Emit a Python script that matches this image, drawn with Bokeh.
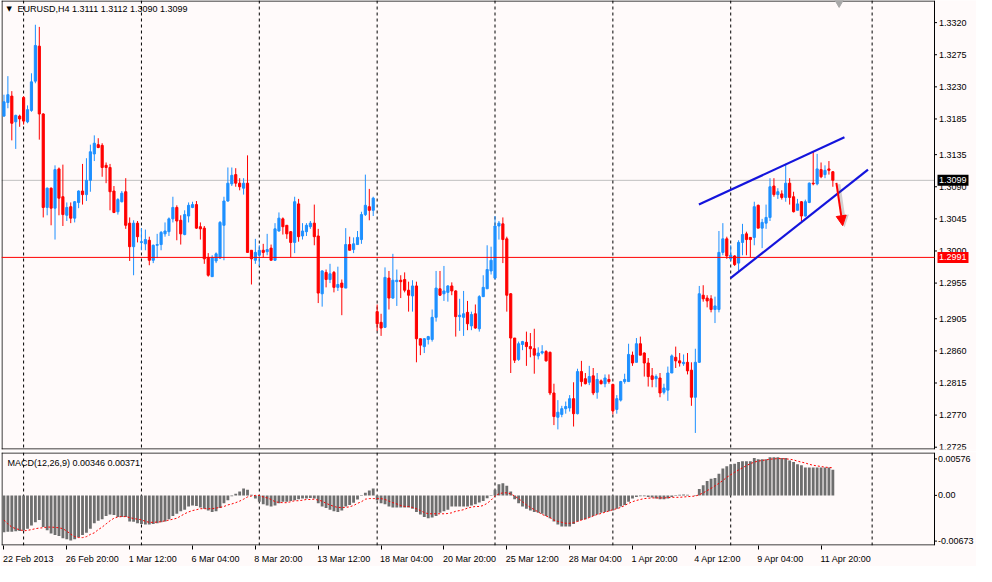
from bokeh.plotting import figure
from bokeh.layouts import column
from bokeh.models import (ColumnDataSource, Span, Label, FixedTicker,
                          Arrow, NormalHead, Range1d)
from bokeh.core.properties import value
from bokeh.embed import file_html
from bokeh.resources import INLINE

# ---------------- data (EURUSD, H4) ----------------
opens = [1.3189, 1.3208, 1.3217, 1.3181, 1.3189, 1.3215, 1.3181, 1.3197, 1.3238, 1.3287,
         1.3192, 1.3061, 1.3088, 1.3060, 1.3115, 1.3076, 1.3050, 1.3062, 1.3046, 1.3068,
         1.3084, 1.3079, 1.3099, 1.3136, 1.3149, 1.3148, 1.3120, 1.3117, 1.3084, 1.3055,
         1.3069, 1.3083, 1.3039, 1.3006, 1.3039, 1.3012, 1.3010, 1.3015, 1.2987, 1.3008,
         1.3009, 1.3024, 1.3027, 1.3045, 1.3061, 1.3043, 1.3023, 1.3049, 1.3061, 1.3065,
         1.3034, 1.3032, 1.2991, 1.2964, 1.2986, 1.2990, 1.3036, 1.3070, 1.3094, 1.3107,
         1.3095, 1.3088, 1.3095, 1.3001, 1.2987, 1.2994, 1.3001, 1.2999, 1.3004, 1.2987,
         1.3028, 1.3045, 1.3036, 1.3027, 1.3012, 1.3066, 1.3021, 1.3027, 1.3034, 1.3039,
         1.3021, 1.2940, 1.2970, 1.2960, 1.2970, 1.2949, 1.2955, 1.2948, 1.3009, 1.3002,
         1.3009, 1.3016, 1.3051, 1.3062, 1.3057, 1.2915, 1.2900, 1.2893, 1.2962, 1.2934,
         1.2957, 1.2959, 1.2960, 1.2945, 1.2937, 1.2951, 1.2877, 1.2866, 1.2876, 1.2876,
         1.2907, 1.2947, 1.2940, 1.2942, 1.2951, 1.2944, 1.2908, 1.2907, 1.2914, 1.2895,
         1.2912, 1.2891, 1.2936, 1.2947, 1.2972, 1.2962, 1.3035, 1.3038, 1.3017, 1.2940,
         1.2878, 1.2848, 1.2869, 1.2872, 1.2866, 1.2863, 1.2853, 1.2857, 1.2859, 1.2858,
         1.2801, 1.2767, 1.2771, 1.2779, 1.2780, 1.2793, 1.2772, 1.2831, 1.2821, 1.2816,
         1.2825, 1.2802, 1.2818, 1.2814, 1.2820, 1.2813, 1.2778, 1.2791, 1.2817, 1.2817,
         1.2854, 1.2844, 1.2870, 1.2857, 1.2843, 1.2825, 1.2821, 1.2822, 1.2802, 1.2805,
         1.2829, 1.2851, 1.2846, 1.2842, 1.2844, 1.2833, 1.2795, 1.2844, 1.2938, 1.2934,
         1.2933, 1.2918, 1.2918, 1.2998, 1.3017, 1.2989, 1.2993, 1.2983, 1.3012, 1.3024,
         1.3019, 1.3019, 1.3064, 1.3032, 1.3039, 1.3047, 1.3091, 1.3079, 1.3080, 1.3075,
         1.3095, 1.3076, 1.3057, 1.3069, 1.3049, 1.3068, 1.3095, 1.3094, 1.3114, 1.3107,
         1.3115, 1.3111]

highs = [1.3219, 1.3245, 1.3224, 1.3191, 1.3191, 1.3217, 1.3204, 1.3249, 1.3317, 1.3314,
         1.3193, 1.3089, 1.3089, 1.3120, 1.3117, 1.3121, 1.3068, 1.3068, 1.3070, 1.3085,
         1.3122, 1.3130, 1.3149, 1.3162, 1.3158, 1.3151, 1.3124, 1.3122, 1.3091, 1.3074,
         1.3084, 1.3102, 1.3047, 1.3043, 1.3042, 1.3032, 1.3030, 1.3020, 1.3009, 1.3024,
         1.3028, 1.3040, 1.3047, 1.3076, 1.3064, 1.3050, 1.3057, 1.3068, 1.3069, 1.3070,
         1.3040, 1.3035, 1.2997, 1.2994, 1.2998, 1.3042, 1.3076, 1.3117, 1.3117, 1.3116,
         1.3102, 1.3102, 1.3134, 1.3001, 1.3017, 1.3008, 1.3010, 1.3024, 1.3009, 1.3039,
         1.3054, 1.3047, 1.3036, 1.3028, 1.3076, 1.3073, 1.3039, 1.3039, 1.3042, 1.3065,
         1.3031, 1.2973, 1.2974, 1.2982, 1.2972, 1.2978, 1.2960, 1.3032, 1.3020, 1.3019,
         1.3028, 1.3055, 1.3107, 1.3087, 1.3076, 1.2925, 1.2912, 1.2977, 1.2972, 1.2996,
         1.2974, 1.2966, 1.2970, 1.2957, 1.2959, 1.2957, 1.2877, 1.2878, 1.2881, 1.2918,
         1.2972, 1.2972, 1.2979, 1.2952, 1.2956, 1.2945, 1.2933, 1.2944, 1.2930, 1.2915,
         1.2925, 1.2938, 1.2966, 1.3008, 1.3006, 1.3049, 1.3042, 1.3047, 1.3020, 1.2941,
         1.2878, 1.2873, 1.2874, 1.2887, 1.2885, 1.2891, 1.2865, 1.2868, 1.2861, 1.2859,
         1.2814, 1.2791, 1.2783, 1.2789, 1.2798, 1.2816, 1.2835, 1.2846, 1.2829, 1.2839,
         1.2836, 1.2829, 1.2820, 1.2827, 1.2827, 1.2814, 1.2798, 1.2818, 1.2828, 1.2870,
         1.2859, 1.2878, 1.2880, 1.2858, 1.2850, 1.2836, 1.2827, 1.2829, 1.2814, 1.2838,
         1.2855, 1.2866, 1.2857, 1.2855, 1.2857, 1.2844, 1.2863, 1.2951, 1.2952, 1.2938,
         1.2938, 1.2936, 1.3028, 1.3039, 1.3020, 1.3008, 1.2994, 1.3015, 1.3038, 1.3027,
         1.3019, 1.3069, 1.3065, 1.3045, 1.3065, 1.3102, 1.3102, 1.3088, 1.3085, 1.3122,
         1.3102, 1.3083, 1.3073, 1.3070, 1.3072, 1.3096, 1.3140, 1.3136, 1.3124, 1.3120,
         1.3126, 1.3112]

lows = [1.3188, 1.3200, 1.3155, 1.3143, 1.3174, 1.3177, 1.3179, 1.3195, 1.3235, 1.3156,
        1.3047, 1.3050, 1.3036, 1.3016, 1.3050, 1.3035, 1.3042, 1.3039, 1.3040, 1.3060,
        1.3065, 1.3070, 1.3083, 1.3126, 1.3144, 1.3104, 1.3095, 1.3057, 1.3053, 1.3051,
        1.3068, 1.3031, 1.2986, 1.2966, 1.3012, 1.3001, 1.3001, 1.2980, 1.2983, 1.2990,
        1.3001, 1.3020, 1.3021, 1.3040, 1.3015, 1.3009, 1.3022, 1.3040, 1.3060, 1.3031,
        1.3016, 1.2982, 1.2964, 1.2964, 1.2983, 1.2989, 1.2987, 1.3069, 1.3091, 1.3090,
        1.3085, 1.3079, 1.2998, 1.2953, 1.2982, 1.2979, 1.2991, 1.2994, 1.2987, 1.2986,
        1.3027, 1.3023, 1.3017, 1.2991, 1.2997, 1.3013, 1.3016, 1.3021, 1.3031, 1.3008,
        1.2927, 1.2922, 1.2949, 1.2955, 1.2942, 1.2944, 1.2910, 1.2948, 1.3001, 1.2997,
        1.3009, 1.3010, 1.3049, 1.3043, 1.3049, 1.2888, 1.2881, 1.2892, 1.2918, 1.2933,
        1.2923, 1.2934, 1.2942, 1.2915, 1.2915, 1.2844, 1.2854, 1.2857, 1.2869, 1.2873,
        1.2901, 1.2937, 1.2930, 1.2929, 1.2938, 1.2880, 1.2888, 1.2881, 1.2889, 1.2889,
        1.2891, 1.2887, 1.2936, 1.2947, 1.2967, 1.2960, 1.3016, 1.2983, 1.2915, 1.2829,
        1.2843, 1.2846, 1.2861, 1.2839, 1.2851, 1.2828, 1.2848, 1.2855, 1.2845, 1.2798,
        1.2756, 1.2750, 1.2767, 1.2772, 1.2775, 1.2754, 1.2771, 1.2810, 1.2813, 1.2812,
        1.2798, 1.2793, 1.2813, 1.2809, 1.2814, 1.2771, 1.2772, 1.2789, 1.2814, 1.2817,
        1.2839, 1.2844, 1.2854, 1.2824, 1.2810, 1.2809, 1.2809, 1.2795, 1.2799, 1.2790,
        1.2829, 1.2836, 1.2838, 1.2839, 1.2827, 1.2783, 1.2745, 1.2843, 1.2929, 1.2921,
        1.2914, 1.2899, 1.2914, 1.2994, 1.2989, 1.2986, 1.2979, 1.2972, 1.2994, 1.2994,
        1.2991, 1.3008, 1.3032, 1.3004, 1.3031, 1.3042, 1.3076, 1.3073, 1.3072, 1.3069,
        1.3065, 1.3054, 1.3057, 1.3042, 1.3048, 1.3067, 1.3092, 1.3092, 1.3102, 1.3102,
        1.3107, 1.3090]

closes = [1.3209, 1.3219, 1.3179, 1.3190, 1.3185, 1.3182, 1.3198, 1.3237, 1.3288, 1.3192,
          1.3061, 1.3088, 1.3060, 1.3114, 1.3074, 1.3051, 1.3061, 1.3046, 1.3069, 1.3084,
          1.3079, 1.3099, 1.3139, 1.3151, 1.3145, 1.3117, 1.3117, 1.3083, 1.3054, 1.3072,
          1.3081, 1.3036, 1.3006, 1.3039, 1.3020, 1.3013, 1.3016, 1.2987, 1.3008, 1.3009,
          1.3026, 1.3028, 1.3045, 1.3061, 1.3042, 1.3024, 1.3051, 1.3064, 1.3065, 1.3032,
          1.3031, 1.2989, 1.2966, 1.2991, 1.2996, 1.3040, 1.3070, 1.3095, 1.3106, 1.3095,
          1.3090, 1.3095, 1.2998, 1.2989, 1.2998, 1.3001, 1.2998, 1.3002, 1.2987, 1.3031,
          1.3046, 1.3034, 1.3024, 1.3012, 1.3069, 1.3020, 1.3028, 1.3036, 1.3039, 1.3020,
          1.2941, 1.2972, 1.2960, 1.2968, 1.2949, 1.2953, 1.2949, 1.3009, 1.3001, 1.3010,
          1.3019, 1.3051, 1.3064, 1.3057, 1.3074, 1.2898, 1.2892, 1.2963, 1.2934, 1.2959,
          1.2959, 1.2957, 1.2945, 1.2938, 1.2951, 1.2877, 1.2868, 1.2877, 1.2880, 1.2907,
          1.2948, 1.2938, 1.2944, 1.2951, 1.2944, 1.2908, 1.2910, 1.2912, 1.2898, 1.2911,
          1.2892, 1.2936, 1.2949, 1.2974, 1.2987, 1.3035, 1.3039, 1.3016, 1.2938, 1.2878,
          1.2847, 1.2870, 1.2873, 1.2866, 1.2863, 1.2854, 1.2857, 1.2859, 1.2846, 1.2801,
          1.2768, 1.2774, 1.2779, 1.2782, 1.2793, 1.2772, 1.2831, 1.2817, 1.2814, 1.2824,
          1.2801, 1.2820, 1.2814, 1.2822, 1.2817, 1.2776, 1.2793, 1.2817, 1.2820, 1.2855,
          1.2843, 1.2870, 1.2854, 1.2843, 1.2824, 1.2820, 1.2824, 1.2801, 1.2808, 1.2829,
          1.2853, 1.2846, 1.2843, 1.2844, 1.2832, 1.2795, 1.2844, 1.2940, 1.2933, 1.2930,
          1.2918, 1.2923, 1.2998, 1.3017, 1.2993, 1.2994, 1.2981, 1.3012, 1.3023, 1.3016,
          1.3016, 1.3062, 1.3032, 1.3040, 1.3047, 1.3090, 1.3079, 1.3083, 1.3075, 1.3095,
          1.3075, 1.3055, 1.3066, 1.3049, 1.3069, 1.3095, 1.3094, 1.3115, 1.3104, 1.3113,
          1.3113, 1.3099]

macd_main = [-0.00494, -0.00490, -0.00490, -0.00481, -0.00477, -0.00469, -0.00447, -0.00405, -0.00362, -0.00332,
             -0.00426, -0.00469, -0.00511, -0.00533, -0.00545, -0.00575, -0.00588, -0.00605, -0.00588, -0.00562,
             -0.00533, -0.00503, -0.00447, -0.00375, -0.00341, -0.00320, -0.00277, -0.00256, -0.00264, -0.00290,
             -0.00290, -0.00290, -0.00349, -0.00354, -0.00375, -0.00383, -0.00392, -0.00392, -0.00383, -0.00375,
             -0.00362, -0.00349, -0.00320, -0.00277, -0.00247, -0.00213, -0.00192, -0.00149, -0.00136, -0.00141,
             -0.00162, -0.00179, -0.00204, -0.00222, -0.00213, -0.00170, -0.00107, -0.00064, -0.00013, 0.00021,
             0.00051, 0.00094, 0.00077, 0.00009, -0.00043, -0.00085, -0.00119, -0.00136, -0.00149, -0.00136,
             -0.00107, -0.00085, -0.00085, -0.00077, -0.00064, -0.00051, -0.00043, -0.00043, -0.00034, -0.00043,
             -0.00107, -0.00149, -0.00170, -0.00192, -0.00213, -0.00222, -0.00204, -0.00149, -0.00128, -0.00098,
             -0.00055, -0.00009, 0.00034, 0.00064, 0.00094, -0.00064, -0.00107, -0.00119, -0.00149, -0.00162,
             -0.00162, -0.00162, -0.00162, -0.00162, -0.00179, -0.00222, -0.00256, -0.00290, -0.00307, -0.00298,
             -0.00277, -0.00234, -0.00213, -0.00192, -0.00149, -0.00149, -0.00149, -0.00149, -0.00149, -0.00136,
             -0.00119, -0.00094, -0.00077, -0.00038, -0.00009, 0.00077, 0.00149, 0.00162, 0.00128, 0.00051,
             -0.00051, -0.00107, -0.00149, -0.00179, -0.00204, -0.00222, -0.00234, -0.00247, -0.00277, -0.00307,
             -0.00349, -0.00392, -0.00417, -0.00417, -0.00417, -0.00383, -0.00349, -0.00332, -0.00320, -0.00298,
             -0.00277, -0.00256, -0.00234, -0.00222, -0.00213, -0.00204, -0.00179, -0.00149, -0.00128, -0.00085,
             -0.00043, -0.00021, -0.00013, -0.00013, -0.00021, -0.00030, -0.00043, -0.00051, -0.00051, -0.00043,
             -0.00021, -0.00009, 0.00009, 0.00013, 0.00009, -0.00002, -0.00009, 0.00085, 0.00136, 0.00192,
             0.00222, 0.00234, 0.00290, 0.00362, 0.00392, 0.00417, 0.00426, 0.00447, 0.00460, 0.00460,
             0.00460, 0.00503, 0.00486, 0.00486, 0.00486, 0.00511, 0.00511, 0.00511, 0.00503, 0.00503,
             0.00469, 0.00447, 0.00417, 0.00405, 0.00375, 0.00375, 0.00375, 0.00375, 0.00375, 0.00375,
             0.00375, 0.00346]

macd_signal = [-0.00332, -0.00383, -0.00426, -0.00447, -0.00460, -0.00477, -0.00469, -0.00460, -0.00447, -0.00439,
               -0.00435, -0.00426, -0.00426, -0.00430, -0.00435, -0.00447, -0.00481, -0.00520, -0.00554, -0.00567,
               -0.00567, -0.00554, -0.00524, -0.00503, -0.00460, -0.00426, -0.00383, -0.00341, -0.00307, -0.00290,
               -0.00285, -0.00285, -0.00298, -0.00311, -0.00320, -0.00328, -0.00349, -0.00362, -0.00362, -0.00358,
               -0.00354, -0.00341, -0.00332, -0.00320, -0.00307, -0.00277, -0.00247, -0.00222, -0.00204, -0.00192,
               -0.00179, -0.00179, -0.00179, -0.00179, -0.00170, -0.00162, -0.00149, -0.00128, -0.00115, -0.00098,
               -0.00077, -0.00051, -0.00021, -0.00009, 0.00000, 0.00000, -0.00021, -0.00034, -0.00055, -0.00085,
               -0.00094, -0.00098, -0.00098, -0.00085, -0.00072, -0.00072, -0.00064, -0.00055, -0.00055, -0.00051,
               -0.00064, -0.00077, -0.00107, -0.00128, -0.00149, -0.00162, -0.00162, -0.00162, -0.00153, -0.00136,
               -0.00107, -0.00085, -0.00051, -0.00043, -0.00043, -0.00043, -0.00043, -0.00055, -0.00077, -0.00098,
               -0.00115, -0.00136, -0.00149, -0.00149, -0.00162, -0.00179, -0.00204, -0.00230, -0.00247, -0.00247,
               -0.00247, -0.00247, -0.00247, -0.00243, -0.00234, -0.00213, -0.00204, -0.00192, -0.00170, -0.00158,
               -0.00149, -0.00149, -0.00136, -0.00107, -0.00064, -0.00009, 0.00021, 0.00034, 0.00034, 0.00021,
               -0.00009, -0.00043, -0.00085, -0.00128, -0.00162, -0.00192, -0.00222, -0.00256, -0.00277, -0.00298,
               -0.00332, -0.00349, -0.00362, -0.00375, -0.00375, -0.00366, -0.00349, -0.00332, -0.00315, -0.00298,
               -0.00277, -0.00256, -0.00243, -0.00226, -0.00209, -0.00192, -0.00179, -0.00162, -0.00136, -0.00107,
               -0.00085, -0.00068, -0.00055, -0.00043, -0.00038, -0.00034, -0.00034, -0.00034, -0.00034, -0.00030,
               -0.00026, -0.00026, -0.00026, -0.00021, -0.00017, -0.00013, -0.00009, 0.00009, 0.00034, 0.00064,
               0.00094, 0.00128, 0.00162, 0.00200, 0.00243, 0.00277, 0.00311, 0.00341, 0.00371, 0.00400,
               0.00426, 0.00447, 0.00460, 0.00469, 0.00477, 0.00486, 0.00490, 0.00494, 0.00494, 0.00490,
               0.00486, 0.00477, 0.00460, 0.00447, 0.00435, 0.00417, 0.00405, 0.00396, 0.00388, 0.00379,
               0.00375, 0.00371]

time_tick_bars = [0, 16, 32, 48, 64, 80, 96, 112, 128, 144, 160, 176, 192, 208]
time_tick_labels = ["22 Feb 2013", "26 Feb 20:00", "1 Mar 12:00", "6 Mar 04:00", "8 Mar 20:00",
                    "13 Mar 12:00", "18 Mar 04:00", "20 Mar 20:00", "25 Mar 12:00", "28 Mar 04:00",
                    "1 Apr 20:00", "4 Apr 12:00", "9 Apr 04:00", "11 Apr 20:00"]
price_ticks = [1.3320, 1.3275, 1.3230, 1.3185, 1.3135, 1.3090, 1.3045, 1.3000,
               1.2955, 1.2905, 1.2860, 1.2815, 1.2770, 1.2725]
week_start_bars = [5, 35, 65, 95, 125, 155, 185, 221]

bid_price = 1.3099
hline_price = 1.2991
macd_max_label = 0.00576
macd_min_label = -0.00673

# drawn objects: (bar index, price)
channel_upper = ([176.9, 213.95], [1.30650, 1.31594])
channel_lower = ([184.95, 219.95], [1.29619, 1.31140])
arrow_from = (211.9, 1.30954)
arrow_to = (213.5, 1.30354)
shift_marker_bar = 212.6

# ---------------- geometry / style ----------------
BULL = "#1E90FF"
BEAR = "#FF0000"
BG = "#FFFAFA"
FONT = "Liberation Sans"
FS = "9px"

W = 976
LEFT_BORDER = 1
STRIP_PX = 42                      # price-scale strip right of the chart frame
FRAME_PX = W - LEFT_BORDER         # full bokeh frame (chart + strip)
CHART_PX = FRAME_PX - STRIP_PX

X_START, X_END = -0.625, 236.875   # chart area in bar units
PPB = CHART_PX / (X_END - X_START)  # pixels per bar
X_FULL_END = X_START + FRAME_PX / PPB

Y_MIN, Y_MAX = 1.27218, 1.3351
P1_H, P1_TOP, P1_BOT = 451, 0, 2
P1_FRAME = P1_H - P1_TOP - P1_BOT
P2_H, P2_TOP, P2_BOT = 115, 1, 19
P2_FRAME = P2_H - P2_TOP - P2_BOT


def px(n):
    return n / PPB


n = len(closes)
idx = list(range(n))
colors = [BULL if c >= o else BEAR for o, c in zip(opens, closes)]
src = ColumnDataSource(dict(
    x=idx, o=opens, h=highs, l=lows, c=closes,
    top=[max(o, c) for o, c in zip(opens, closes)],
    bottom=[min(o, c) for o, c in zip(opens, closes)],
    color=colors))

xr = Range1d(X_START, X_FULL_END)


def base_fig(height, yr, top_b, bottom_b, x_loc, frame_h):
    p = figure(width=W, height=height, x_range=xr, y_range=yr,
               output_backend="svg", toolbar_location=None, tools="",
               x_axis_location=x_loc, y_axis_location=None,
               min_border_left=LEFT_BORDER, min_border_right=0, min_border_top=top_b,
               min_border_bottom=bottom_b)
    p.background_fill_color = BG
    p.border_fill_color = BG
    p.outline_line_color = None
    p.xgrid.visible = False
    p.ygrid.visible = False
    for b in week_start_bars:
        p.add_layout(Span(location=b, dimension="height", line_color="black",
                          line_dash="3 3", line_width=1, level="underlay"))
    # frame of the chart area (without the price strip)
    ylo, yhi = yr.start, yr.end
    uy = (yhi - ylo) / frame_h
    p.segment(x0=[X_START, X_START], y0=[yhi - 0.5 * uy, ylo + 0.5 * uy],
              x1=[X_END, X_END], y1=[yhi - 0.5 * uy, ylo + 0.5 * uy],
              line_color="black", line_width=1)
    p.segment(x0=[X_START + px(0.5), X_END], y0=[ylo, ylo], x1=[X_START + px(0.5), X_END],
              y1=[yhi, yhi], line_color="black", line_width=1)
    return p, uy


def scale_labels(p, ys, texts, tick_len=2.5, gap=4.5):
    p.segment(x0=[X_END] * len(ys), y0=ys, x1=[X_END + px(tick_len)] * len(ys), y1=ys,
              line_color="black", line_width=1)
    p.text(x=[X_END + px(gap)] * len(ys), y=ys, text=texts, text_font=value(FONT),
           text_font_size=value(FS), text_color="black", text_baseline="middle",
           text_align="left")


# ---------------- main price panel ----------------
p1, uy1 = base_fig(P1_H, Range1d(Y_MIN, Y_MAX), P1_TOP, P1_BOT, None, P1_FRAME)

p1.segment(x0=[X_START], y0=[bid_price], x1=[X_END], y1=[bid_price],
           line_color="#C0C0C0", line_width=1, level="underlay")

p1.segment(x0="x", y0="l", x1="x", y1="h", line_color="color", line_width=1, source=src)
p1.vbar(x="x", top="top", bottom="bottom", width=0.55, fill_color="color",
        line_color="color", line_width=1, source=src)

p1.segment(x0=[X_START], y0=[hline_price], x1=[X_END], y1=[hline_price],
           line_color="#FF0000", line_width=1)

p1.line(channel_upper[0], channel_upper[1], line_color="#1414DC", line_width=2.2)
p1.line(channel_lower[0], channel_lower[1], line_color="#1414DC", line_width=2.2)

p1.add_layout(Arrow(x_start=arrow_from[0] + 0.5, y_start=arrow_from[1] - 0.0002,
                    x_end=arrow_to[0] + 0.5, y_end=arrow_to[1] - 0.0002,
                    line_color="#555555", line_alpha=0.25, line_width=4,
                    end=NormalHead(size=12, fill_color="#555555", fill_alpha=0.25,
                                   line_color=None)))
p1.add_layout(Arrow(x_start=arrow_from[0], y_start=arrow_from[1],
                    x_end=arrow_to[0], y_end=arrow_to[1],
                    line_color="#FF0000", line_width=2,
                    end=NormalHead(size=10, fill_color="#FF0000", line_color="#FF0000",
                                   line_width=1)))

p1.scatter([shift_marker_bar], [Y_MAX], marker="inverted_triangle", size=12,
           fill_color="#A8A8A8", line_color="#A8A8A8")

p1.add_layout(Label(x=5, y=Y_MAX, x_units="screen", y_offset=-4, text="\u25BC",
                    text_font="DejaVu Sans", text_font_size="7px", text_baseline="top",
                    text_color="black"))
p1.add_layout(Label(x=16, y=Y_MAX, x_units="screen", y_offset=-3,
                    text="EURUSD,H4  1.3111 1.3112 1.3090 1.3099",
                    text_font=FONT, text_font_size=FS, text_baseline="top",
                    text_color="black"))

scale_labels(p1, price_ticks, ["%.4f" % t for t in price_ticks])

# current bid and horizontal-line price boxes on the scale
box_x = X_END + px(3 + 15.5)
p1.rect(x=[box_x, box_x], y=[bid_price, hline_price], width=31, height=11,
        width_units="screen", height_units="screen",
        fill_color=["black", "#FF0000"], line_color=None)
p1.text(x=[X_END + px(4.5)] * 2, y=[bid_price, hline_price],
        text=["%.4f" % bid_price, "%.4f" % hline_price], text_font=value(FONT),
        text_font_size=value(FS), text_color="white", text_baseline="middle",
        text_align="left")

# ---------------- MACD panel ----------------
p2, uy2 = base_fig(P2_H, Range1d(macd_min_label, macd_max_label), P2_TOP, P2_BOT,
                   "below", P2_FRAME)
tick_top = macd_max_label - 6.5 * uy2
tick_bot = macd_min_label + 4.5 * uy2
scale_labels(p2, [tick_top, 0.0, tick_bot],
             ["%.5f" % macd_max_label, "0.00", "%.5f" % macd_min_label], gap=3.5)

p2.vbar(x=idx, top=macd_main, bottom=0, width=0.72, fill_color="#6E6E6E", line_color=None)
p2.line(idx, macd_signal, line_color="#FF0000", line_width=1, line_dash="2 2")

p2.add_layout(Label(x=6, y=macd_max_label, x_units="screen", y_offset=-5,
                    text="MACD(12,26,9) %.5f %.5f" % (macd_main[-1], macd_signal[-1]),
                    text_font=FONT, text_font_size=FS, text_baseline="top",
                    text_color="black"))

# time axis: tick marks at the bars (minor ticks), labels left-aligned after them
EM = {" ": 0.278, ":": 0.278, "F": 0.611, "M": 0.833, "A": 0.667, "r": 0.333}
fs_px = float(FS.replace("px", ""))


def text_w(s):
    return sum(EM.get(ch, 0.556) for ch in s) * fs_px


centers = [b + px(text_w(t) / 2.0 - 1.0) for b, t in zip(time_tick_bars, time_tick_labels)]
xa = p2.xaxis[0]
xa.ticker = FixedTicker(ticks=centers, minor_ticks=time_tick_bars)
xa.major_label_overrides = {c: t for c, t in zip(centers, time_tick_labels)}
xa.major_tick_out = 0
xa.major_tick_in = 0
xa.minor_tick_out = 4
xa.minor_tick_in = 0
xa.minor_tick_line_color = "black"
xa.axis_line_color = None
xa.major_label_standoff = 4
xa.major_label_text_font = FONT
xa.major_label_text_font_size = FS
xa.major_label_text_color = "black"

layout = column(p1, p2, spacing=0)
open("out.html", "w").write(file_html(layout, INLINE))
